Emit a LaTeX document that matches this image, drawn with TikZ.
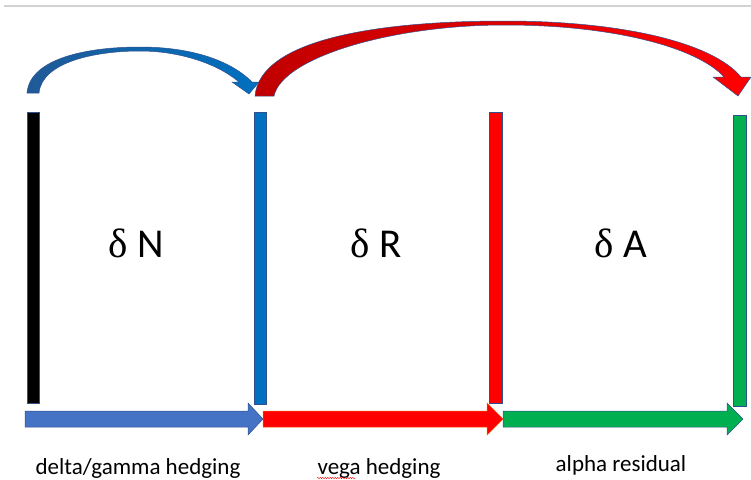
\documentclass[tikz,border=0pt]{standalone}
\usepackage{fontspec}
\setmainfont{Carlito}
\newfontfamily\grk{Liberation Serif}
\usepackage{xcolor}
\usetikzlibrary{positioning}
\usetikzlibrary{decorations.pathmorphing}

\definecolor{edgeblue}{HTML}{2F528F}
\definecolor{barblue}{HTML}{0070C0}
\definecolor{flowblue}{HTML}{4472C4}
\definecolor{arcblue}{HTML}{1F5A96}
\definecolor{redfill}{HTML}{FF0000}
\definecolor{darkred}{HTML}{C00000}
\definecolor{greenfill}{HTML}{00B050}

\begin{document}
\begin{tikzpicture}[x=1pt,y=-1pt,
  bar/.style={draw=edgeblue,line width=0.6pt},
  flow/.style={draw=edgeblue,line width=0.5pt},
  greek/.style={font=\fontsize{41}{41}\selectfont},
  caption/.style={font=\fontsize{23}{23}\selectfont,anchor=base}]
\useasboundingbox (0,0) rectangle (751,479);
\draw[gray!35,line width=1.2pt] (4,6) -- (751,6);

% vertical bars
\fill[bar,fill=black] (27,112) rectangle (39,403);
\fill[bar,fill=barblue] (254,112) rectangle (266,404);
\fill[bar,fill=redfill] (489,112) rectangle (502,403);
\fill[bar,fill=greenfill] (733,115) rectangle (746,406);

% curved arrows
\path[flow,left color=arcblue,right color=barblue]
  (27,93) -- (39,93)
  .. controls (42,62) and (95,51) .. (140,51)
  .. controls (180,51) and (218,64) .. (239,82)
  -- (232,82) -- (249,94) -- (259,82) -- (252,82)
  .. controls (228,58) and (186,47) .. (140,47)
  .. controls (88,47) and (30,58) .. (27,93) -- cycle;
\path[flow,left color=darkred,right color=redfill]
  (255,96) -- (274,96)
  .. controls (282,58) and (390,25) .. (505,25)
  .. controls (615,25) and (698,48) .. (724,77)
  -- (713,77) -- (738,96) -- (751,77) -- (741,77)
  .. controls (712,42) and (620,21) .. (505,21)
  .. controls (375,21) and (260,40) .. (255,96) -- cycle;

% bottom arrows
\fill[flow,fill=flowblue] (25,411) -- (248,411) -- (248,403) -- (263,419)
  -- (248,435) -- (248,427) -- (25,427) -- cycle;
\fill[flow,draw=orange!70!red,fill=redfill] (263,411) -- (487,411) -- (487,403) -- (503,419)
  -- (487,435) -- (487,427) -- (263,427) -- cycle;
\fill[flow,fill=greenfill] (503,411) -- (727,411) -- (727,403) -- (743,419)
  -- (727,435) -- (727,427) -- (503,427) -- cycle;

% labels
\node[greek] (dN) at (136,243) {{\grk δ} N};
\node[greek] (dR) at (376,243) {{\grk δ} R};
\node[greek] (dA) at (621,243) {{\grk δ} A};
\node[caption] (hedgeDG) at (138,474) {delta/gamma hedging};
\node[caption] (hedgeV) at (379,474) {vega hedging};
\node[caption] (resA) at (621,471) {alpha residual};
\draw[red,line width=0.4pt,decorate,decoration={snake,amplitude=0.7pt,segment length=2.5pt}]
  (317,478) -- (356,478);
\end{tikzpicture}
\end{document}
